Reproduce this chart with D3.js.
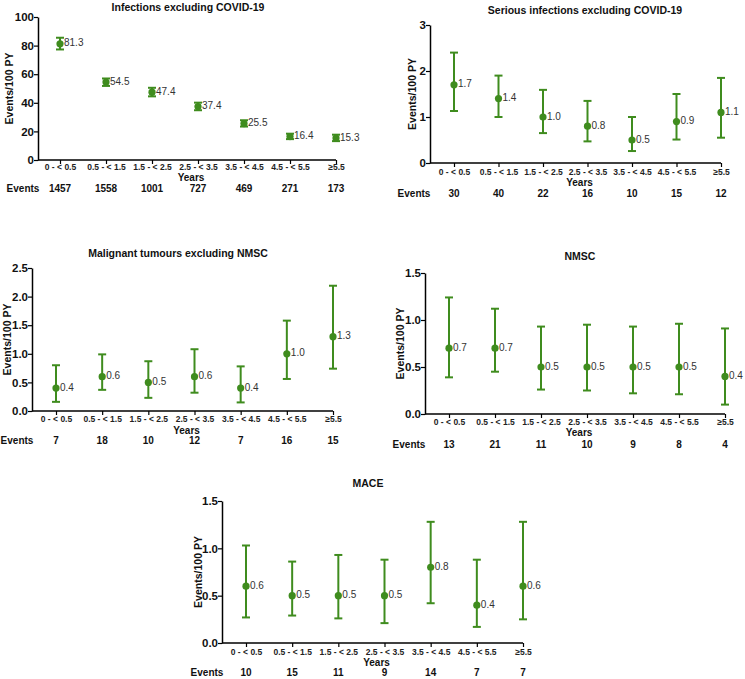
<!DOCTYPE html>
<html><head><meta charset="utf-8">
<script src="https://cdn.jsdelivr.net/npm/d3@7"></script>
<style>body{margin:0;background:#fff;font-family:"Liberation Sans",Arial,sans-serif}</style>
</head><body><svg id="c" width="745" height="679"></svg>
<script>
const categories = ["0 - < 0.5","0.5 - < 1.5","1.5 - < 2.5","2.5 - < 3.5","3.5 - < 4.5","4.5 - < 5.5","\u22655.5"];
const titles = ["Infections excluding COVID-19","Serious infections excluding COVID-19","Malignant tumours excluding NMSC","NMSC","MACE"];
const rateInf = [81.3,54.5,47.4,37.4,25.5,16.4,15.3];
const lowInf  = [77.3,51.8,44.5,34.8,23.4,14.6,13.2];
const highInf = [85.5,57.0,50.5,40.1,27.8,18.4,17.7];
const eventsInf = [1457,1558,1001,727,469,271,173];
const rateSer = [1.7,1.4,1.0,0.8,0.5,0.9,1.1];
const lowSer  = [1.13,1.0,0.65,0.47,0.26,0.51,0.55];
const highSer = [2.40,1.90,1.59,1.35,1.0,1.50,1.85];
const eventsSer = [30,40,22,16,10,15,12];
const rateMal = [0.4,0.6,0.5,0.6,0.4,1.0,1.3];
const lowMal  = [0.16,0.37,0.23,0.32,0.15,0.56,0.74];
const highMal = [0.80,0.99,0.87,1.08,0.78,1.58,2.19];
const eventsMal = [7,18,10,12,7,16,15];
const rateNm = [0.7,0.7,0.5,0.5,0.5,0.5,0.4];
const lowNm  = [0.39,0.45,0.26,0.25,0.22,0.21,0.10];
const highNm = [1.24,1.12,0.93,0.95,0.93,0.96,0.91];
const eventsNm = [13,21,11,10,9,8,4];
const rateMace = [0.6,0.5,0.5,0.5,0.8,0.4,0.6];
const lowMace  = [0.27,0.29,0.26,0.21,0.42,0.17,0.25];
const highMace = [1.03,0.86,0.93,0.88,1.28,0.88,1.28];
const eventsMace = [10,15,11,9,14,7,7];
const yMax = [100,3,2.5,1.5,1.5];
const yStep = [20,1,0.5,0.5,0.5];
const yFmt = ["d","d",".1f",".1f",".1f"];
const valFmt = [".1f",".1f",".1f",".1f",".1f"];

const data = [
  {rate:rateInf,low:lowInf,high:highInf,events:eventsInf},
  {rate:rateSer,low:lowSer,high:highSer,events:eventsSer},
  {rate:rateMal,low:lowMal,high:highMal,events:eventsMal},
  {rate:rateNm,low:lowNm,high:highNm,events:eventsNm},
  {rate:rateMace,low:lowMace,high:highMace,events:eventsMace}
];
// layout
const layout = [
  {ax:38, top:17, bot:160, x0:60, x1:336, tl:168, yr:178, ev:189, evx:23, ylx:10, ty:8, tx:188},
  {ax:430, top:25, bot:163, x0:454, x1:721, tl:172.5, yr:183, ev:194.5, evx:414, ylx:413, ty:11, tx:585},
  {ax:32, top:268, bot:411, x0:56, x1:333, tl:420, yr:431, ev:441.5, evx:17, ylx:8, ty:254, tx:178},
  {ax:425, top:273, bot:414, x0:449, x1:725, tl:422.5, yr:433, ev:445, evx:409, ylx:401, ty:257, tx:580},
  {ax:222, top:501, bot:643, x0:246, x1:523, tl:652.5, yr:663, ev:673.5, evx:207, ylx:199, ty:484, tx:368}
];
const green = "#3f8c1e";
const svg = d3.select("#c");

data.forEach((d,i)=>{
  const L = layout[i];
  const g = svg.append("g");
  const x = d3.scalePoint().domain(categories).range([L.x0,L.x1]);
  const y = d3.scaleLinear().domain([0,yMax[i]]).range([L.bot,L.top]);
  const ticks = d3.range(0, yMax[i]+1e-9, yStep[i]);
  // y axis
  const ya = g.append("g").attr("transform",`translate(${L.ax},0)`)
    .call(d3.axisLeft(y).tickValues(ticks).tickFormat(d3.format(yFmt[i])).tickSize(4).tickSizeOuter(0));
  ya.select(".domain").attr("stroke","#000").attr("stroke-width",1.5);
  ya.selectAll(".tick line").attr("stroke","#000").attr("stroke-width",1.2);
  ya.selectAll(".tick text").attr("font-family","Liberation Sans").attr("font-size",11.5).attr("font-weight","bold").attr("fill","#111").attr("x",-4);
  // x axis
  const xa = g.append("g").attr("transform",`translate(0,${L.bot})`)
    .call(d3.axisBottom(x).tickSize(4).tickSizeOuter(0));
  xa.select(".domain").attr("d",`M${L.ax},0H${L.x1}`).attr("stroke","#000").attr("stroke-width",1.5);
  xa.selectAll(".tick line").attr("stroke","#000").attr("stroke-width",1.2);
  xa.selectAll(".tick text").attr("font-family","Liberation Sans").attr("font-size",8.5).attr("font-weight","bold").attr("fill","#222")
    .attr("y",L.tl-L.bot).attr("dy",null).attr("dominant-baseline","middle");
  // title
  g.append("text").attr("x",L.tx).attr("y",L.ty).attr("text-anchor","middle").attr("dominant-baseline","middle")
    .attr("font-size",10.5).attr("font-weight","bold").attr("fill","#111").text(titles[i]);
  // Years
  g.append("text").attr("x",(L.ax+L.x1)/2+4).attr("y",L.yr).attr("text-anchor","middle").attr("dominant-baseline","middle")
    .attr("font-size",10).attr("font-weight","bold").attr("fill","#111").text("Years");
  // y label
  g.append("text").attr("transform",`translate(${L.ylx},${(L.top+L.bot)/2}) rotate(-90)`).attr("text-anchor","middle").attr("dominant-baseline","middle")
    .attr("font-size",10.5).attr("font-weight","bold").attr("fill","#111").text("Events/100 PY");
  // events row
  g.append("text").attr("x",L.evx).attr("y",L.ev).attr("text-anchor","middle").attr("dominant-baseline","middle")
    .attr("font-size",10).attr("font-weight","bold").attr("fill","#111").text("Events");
  g.selectAll(".ev").data(d.events).join("text").attr("x",(v,j)=>x(categories[j])).attr("y",L.ev)
    .attr("text-anchor","middle").attr("dominant-baseline","middle").attr("font-size",10).attr("font-weight","bold").attr("fill","#111").text(v=>v);
  // error bars
  const idx = d3.range(categories.length);
  g.selectAll(".eb").data(idx).join("line").attr("x1",j=>x(categories[j])).attr("x2",j=>x(categories[j]))
    .attr("y1",j=>y(d.low[j])).attr("y2",j=>y(d.high[j])).attr("stroke",green).attr("stroke-width",2);
  ["low","high"].forEach(k=>{
    g.selectAll(".cap"+k).data(idx).join("line").attr("x1",j=>x(categories[j])-4).attr("x2",j=>x(categories[j])+4)
      .attr("y1",j=>y(d[k][j])).attr("y2",j=>y(d[k][j])).attr("stroke",green).attr("stroke-width",2);
  });
  g.selectAll(".pt").data(idx).join("circle").attr("cx",j=>x(categories[j])).attr("cy",j=>y(d.rate[j])).attr("r",3.6).attr("fill",green);
  g.selectAll(".vl").data(idx).join("text").attr("x",j=>x(categories[j])+4).attr("y",j=>y(d.rate[j]))
    .attr("dominant-baseline","middle").attr("font-size",10).attr("fill","#333").text(j=>d3.format(valFmt[i])(d.rate[j]));
});
</script></body></html>
